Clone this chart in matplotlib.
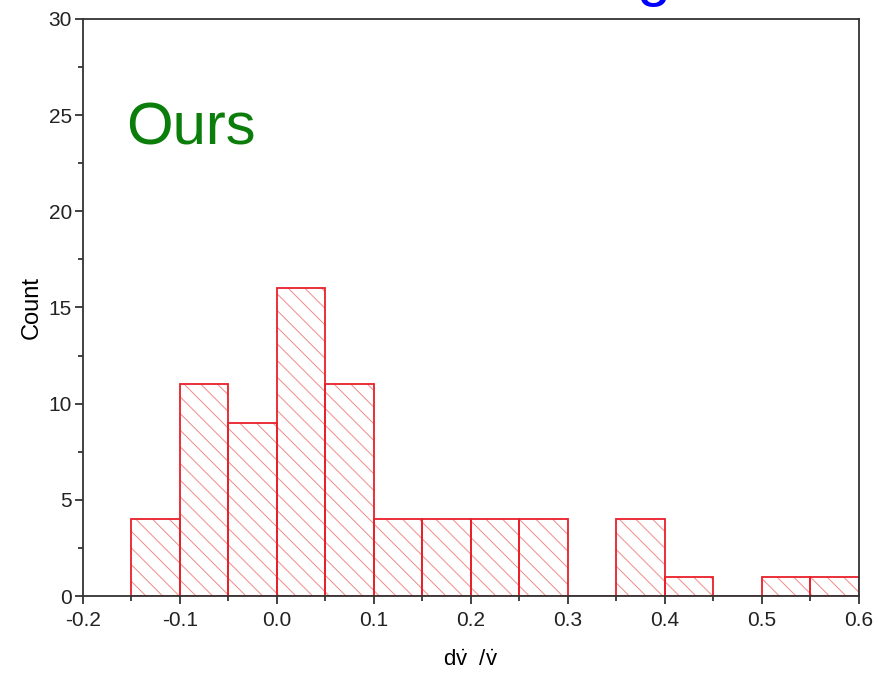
import matplotlib
matplotlib.use("Agg")
import matplotlib.pyplot as plt
import numpy as np
from matplotlib.ticker import MultipleLocator

plt.rcParams['font.family'] = ['Liberation Sans', 'DejaVu Sans']
plt.rcParams['mathtext.fontset'] = 'custom'
plt.rcParams['mathtext.rm'] = 'Liberation Sans'
plt.rcParams['mathtext.it'] = 'Liberation Sans'
plt.rcParams['hatch.linewidth'] = 0.7

# histogram bins (left edges, width 0.05) and counts
bin_left = [-0.15, -0.10, -0.05, 0.00, 0.05, 0.10, 0.15, 0.20, 0.25,
            0.30, 0.35, 0.40, 0.45, 0.50, 0.55]
counts = [4, 11, 9, 16, 11, 4, 4, 4, 4, 0, 4, 1, 0, 1, 1]
bin_width = 0.05
xticks = [-0.2, -0.1, 0.0, 0.1, 0.2, 0.3, 0.4, 0.5, 0.6]

fig = plt.figure(figsize=(8.79, 6.77), dpi=100)
ax = fig.add_axes([0.0944, 0.1196, 0.8828, 0.8524])

# hatch fill in pale red, outline in solid red
ax.bar(bin_left, counts, width=bin_width, align='edge', color='white',
       edgecolor='#f08a8a', hatch='\\\\', linewidth=0)
ax.bar(bin_left, counts, width=bin_width, align='edge', fill=False,
       edgecolor='#e8202a', linewidth=1.3)

ax.set_xlim(-0.2, 0.6)
ax.set_ylim(0, 30)
ax.set_xticks(xticks)
ax.set_xticklabels([f"{v:.1f}" for v in xticks])
ax.xaxis.set_minor_locator(MultipleLocator(0.05))
ax.yaxis.set_major_locator(MultipleLocator(5))
ax.yaxis.set_minor_locator(MultipleLocator(2.5))

ax.tick_params(which='both', direction='out', width=1.2, colors='#222222',
               labelsize=15)
ax.tick_params(which='major', length=6)
ax.tick_params(which='minor', length=3.5)
ax.tick_params(axis='x', pad=5)
ax.tick_params(axis='y', pad=2)
for s in ax.spines.values():
    s.set_linewidth(1.3)
    s.set_color('#333333')

ax.set_xlabel(r'$\mathrm{d\dot{v}\ \ /\dot{v}}$', fontsize=16, labelpad=14)
ax.set_ylabel('Count', fontsize=17, labelpad=4)

ax.text(0.055, 0.782, 'Ours', transform=ax.transAxes, fontsize=43,
        color='#0a7d0a', va='baseline')
fig.text(0.743, 1.009, 'g', fontsize=44, color='#0000ff', ha='center',
         va='baseline')

fig.savefig('out.png', dpi=100)
